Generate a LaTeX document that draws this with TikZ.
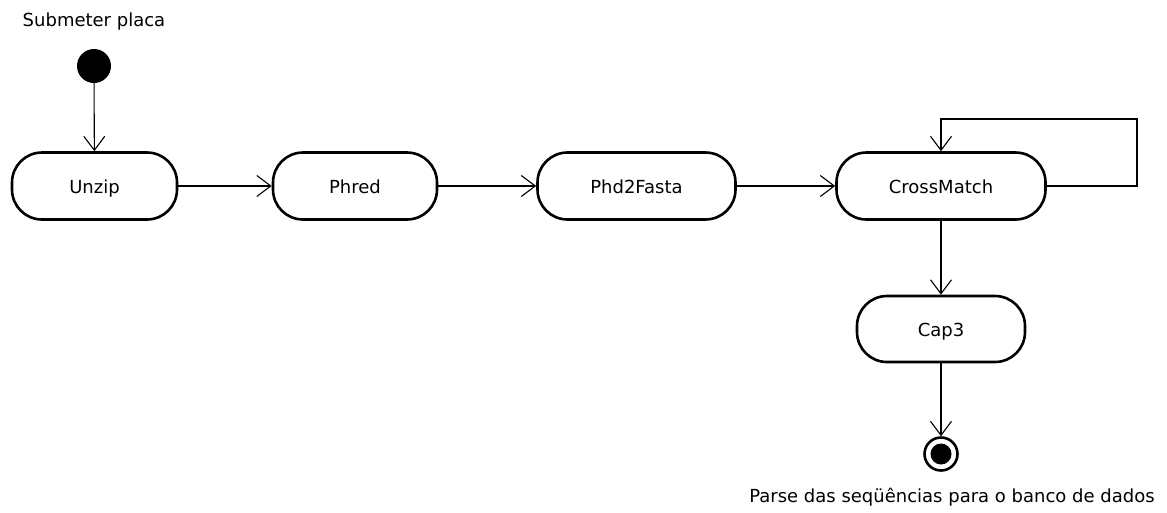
\documentclass[tikz,border=0pt]{standalone}
\usepackage{fontspec}
\setmainfont{DejaVu Sans}
\usetikzlibrary{arrows.meta}

\tikzset{
    activity/.style={draw, line width=2.6pt, rounded corners=30pt, minimum height=67pt,
        inner sep=0pt, text height=16pt, text depth=2pt},
    flow/.style={line width=1.1pt, -{Straight Barb[length=14pt,width=21pt,line width=1.1pt]}},
    startnode/.style={circle, fill=black, minimum size=34pt, inner sep=0pt},
    endnode/.style={circle, draw, line width=2.6pt, minimum size=33pt, inner sep=0pt,
        path picture={\fill (path picture bounding box.center) circle (10.5pt);}},
}

\begin{document}
\begin{tikzpicture}[x=1pt, y=-1pt, font=\fontsize{18}{22}\selectfont]
    \useasboundingbox (0,0) rectangle (1167,512);
    % start
    \node (lblstart) at (94,22) {Submeter placa};
    \node [startnode] (start) at (94,66) {};
    % activities
    \node [activity, minimum width=165pt] (unzip) at (94.5,186) {Unzip};
    \node [activity, minimum width=164pt] (phred) at (355,186) {Phred};
    \node [activity, minimum width=198pt] (phd) at (636.5,186) {Phd2Fasta};
    \node [activity, minimum width=209pt] (cross) at (941,186) {CrossMatch};
    \node [activity, minimum width=168pt, minimum height=66pt] (cap) at (941,329) {Cap3};
    % end
    \node [endnode] (end) at (941,454) {};
    \node (lblend) at (952,497) {Parse das seqüências para o banco de dados};
    \coordinate (loop) at (1137,119);

    % flows
    \draw [flow] (start) -- (unzip);
    \draw [flow] (unzip) -- (phred);
    \draw [flow] (phred) -- (phd);
    \draw [flow] (phd) -- (cross);
    \draw [flow] (cross.east) -| (loop) -| (cross.north);
    \draw [flow] (cross) -- (cap);
    \draw [flow] (cap) -- (end);
\end{tikzpicture}
\end{document}
